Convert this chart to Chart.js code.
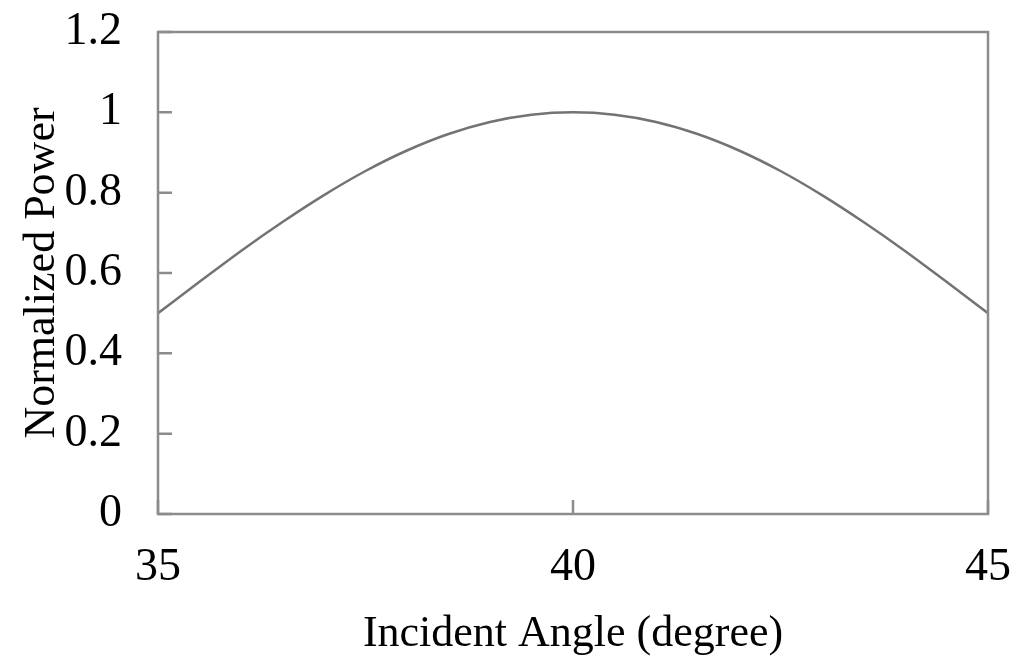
<!DOCTYPE html>
<html>
<head>
<meta charset="utf-8">
<script src="https://cdn.jsdelivr.net/npm/chart.js@4"></script>
<style>
  html, body { margin: 0; padding: 0; background: #fff; }
  #wrap { width: 1024px; height: 665px; }
</style>
</head>
<body>
<div id="wrap"><canvas id="powerChart"></canvas></div>
<script>
// values
const angles = [35, 35.5, 36, 36.5, 37, 37.5, 38, 38.5, 39, 39.5, 40,
                40.5, 41, 41.5, 42, 42.5, 43, 43.5, 44, 44.5, 45];
const power = [0.500, 0.578, 0.655, 0.727, 0.794, 0.854, 0.905, 0.946, 0.976, 0.994, 1.000,
               0.994, 0.976, 0.946, 0.905, 0.854, 0.794, 0.727, 0.655, 0.578, 0.500];
const xTicks = [35, 40, 45];
const yTicks = [0, 0.2, 0.4, 0.6, 0.8, 1, 1.2];

const serif = 'Liberation Serif';
const frameColor = '#8c8c8c';

// frame around plot + inward tick marks
const framePlugin = {
  id: 'frame',
  afterDraw(chart) {
    const { ctx, chartArea: a, scales } = chart;
    ctx.save();
    ctx.strokeStyle = frameColor;
    ctx.lineWidth = 2.5;
    ctx.strokeRect(a.left, a.top, a.right - a.left, a.bottom - a.top);
    ctx.beginPath();
    yTicks.forEach(v => {
      const y = scales.y.getPixelForValue(v);
      ctx.moveTo(a.left, y);
      ctx.lineTo(a.left + 14, y);
    });
    xTicks.forEach(v => {
      const x = scales.x.getPixelForValue(v);
      ctx.moveTo(x, a.bottom);
      ctx.lineTo(x, a.bottom - 14);
    });
    ctx.stroke();
    ctx.restore();
  }
};

new Chart(document.getElementById('powerChart').getContext('2d'), {
  type: 'line',
  data: {
    datasets: [{
      data: angles.map((a, i) => ({ x: a, y: power[i] })),
      borderColor: '#737373',
      borderWidth: 2.5,
      pointRadius: 0,
      fill: false,
      cubicInterpolationMode: 'monotone'
    }]
  },
  options: {
    responsive: true,
    maintainAspectRatio: false,
    animation: false,
    events: [],
    layout: {
      padding: { top: 32, right: 36, left: 12, bottom: 0 }
    },
    plugins: {
      legend: { display: false },
      tooltip: { enabled: false }
    },
    scales: {
      x: {
        type: 'linear',
        min: 35,
        max: 45,
        afterBuildTicks: s => { s.ticks = xTicks.map(v => ({ value: v })); },
        afterFit: s => { s.height = 151; s.paddingLeft = 0; s.paddingRight = 0; },
        grid: { display: false },
        border: { display: false },
        ticks: {
          color: '#000',
          font: { family: serif, size: 46 },
          padding: 18,
          maxRotation: 0
        },
        title: {
          display: true,
          text: 'Incident Angle (degree)',
          color: '#000',
          font: { family: serif, size: 44 },
          padding: { top: 2 }
        }
      },
      y: {
        min: 0,
        max: 1.2,
        afterBuildTicks: s => { s.ticks = yTicks.map(v => ({ value: v })); },
        afterFit: s => { s.width = 146; s.paddingTop = 0; s.paddingBottom = 0; },
        grid: { display: false },
        border: { display: false },
        ticks: {
          color: '#000',
          font: { family: serif, size: 46 },
          padding: 28,
          callback: v => String(+v.toFixed(1))
        },
        title: {
          display: true,
          text: 'Normalized Power',
          color: '#000',
          font: { family: serif, size: 44 },
          padding: { bottom: 0 }
        }
      }
    }
  },
  plugins: [framePlugin]
});
</script>
</body>
</html>
